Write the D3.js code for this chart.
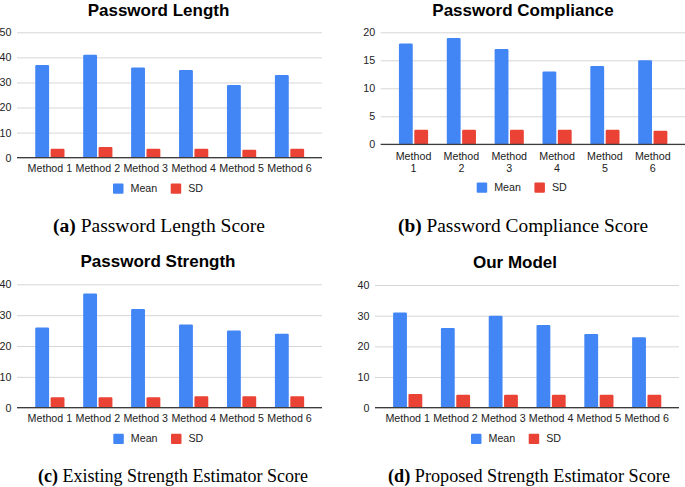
<!DOCTYPE html>
<html>
<head>
<meta charset="utf-8">
<script src="https://cdn.jsdelivr.net/npm/d3@7"></script>
<style>
  html, body { margin: 0; padding: 0; background: #fff; }
  svg { display: block; }
</style>
</head>
<body>
<svg id="chart" width="685" height="487"></svg>
<script>
// ---- Data ----
const categories = ["Method 1", "Method 2", "Method 3", "Method 4", "Method 5", "Method 6"];
const seriesNames = ["Mean", "SD"];

const lengthMean = [37, 41, 36, 35, 29, 33];
const lengthSD = [3.6, 4.3, 3.6, 3.6, 3.2, 3.6];

const complianceMean = [18, 19, 17, 13, 14, 15];
const complianceSD = [2.6, 2.6, 2.6, 2.6, 2.6, 2.4];

const strengthMean = [26, 37, 32, 27, 25, 24];
const strengthSD = [3.4, 3.4, 3.4, 3.7, 3.7, 3.7];

const modelMean = [31, 26, 30, 27, 24, 23];
const modelSD = [4.5, 4.2, 4.2, 4.2, 4.2, 4.2];

const lengthTicks = [0, 10, 20, 30, 40, 50];
const complianceTicks = [0, 5, 10, 15, 20];
const strengthTicks = [0, 10, 20, 30, 40];
const modelTicks = [0, 10, 20, 30, 40];

const titles = ["Password Length", "Password Compliance", "Password Strength", "Our Model"];
const captionLabels = ["(a)", "(b)", "(c)", "(d)"];
const captionTexts = ["Password Length Score", "Password Compliance Score",
                      "Existing Strength Estimator Score", "Proposed Strength Estimator Score"];

// ---- Layout (positions only) ----
const panels = [
  { mean: lengthMean, sd: lengthSD, ticks: lengthTicks, max: 50, wrap: false,
    gx0: 17, gx1: 322, bx0: 25.9, bx1: 313.5, yTop: 32.3, yBase: 157.7,
    titleX: 158.5, titleY: 15.5, catY: 172.3, legX: 113, legY: 183.5,
    capX: 159, capY: 232, capW: 212 },
  { mean: complianceMean, sd: complianceSD, ticks: complianceTicks, max: 20, wrap: true,
    gx0: 380.7, gx1: 685, bx0: 389.6, bx1: 676.7, yTop: 32.3, yBase: 144.3,
    titleX: 523, titleY: 15.5, catY: 159.8, legX: 476.7, legY: 182.5,
    capX: 523, capY: 232, capW: 250 },
  { mean: strengthMean, sd: strengthSD, ticks: strengthTicks, max: 40, wrap: false,
    gx0: 17, gx1: 322, bx0: 25.9, bx1: 313.5, yTop: 284.3, yBase: 407.7,
    titleX: 158, titleY: 266.7, catY: 422.3, legX: 113.3, legY: 433.7,
    capX: 173, capY: 482.3, capW: 270 },
  { mean: modelMean, sd: modelSD, ticks: modelTicks, max: 40, wrap: false,
    gx0: 375, gx1: 679, bx0: 383.8, bx1: 670.6, yTop: 285, yBase: 407.7,
    titleX: 515, titleY: 267.7, catY: 421.9, legX: 471, legY: 433.7,
    capX: 529, capY: 482.3, capW: 282 }
];

const colors = { Mean: "#4285F4", SD: "#EA4335" };
const sansFont = "Arial, 'Liberation Sans', sans-serif";
const serifFont = "'Liberation Serif', 'DejaVu Serif', serif";

const svg = d3.select("#chart");

panels.forEach((p, i) => {
  const g = svg.append("g");

  const y = d3.scaleLinear().domain([0, p.max]).range([p.yBase, p.yTop]);
  const x0 = d3.scaleBand().domain(categories).range([p.bx0, p.bx1]).padding(0);
  const groupW = x0.bandwidth() * 0.61;
  const x1 = d3.scaleBand().domain(seriesNames).range([0, groupW]).paddingInner(0.1);

  // gridlines + y labels
  const axis = d3.axisLeft(y).tickValues(p.ticks).tickSize(-(p.gx1 - p.gx0)).tickPadding(5.5);
  const ax = g.append("g").attr("transform", `translate(${p.gx0},0)`).call(axis);
  ax.select(".domain").remove();
  ax.selectAll(".tick line").attr("stroke", "#d6d6d6").attr("stroke-width", 1);
  ax.selectAll(".tick text").attr("fill", "#222").attr("font-size", "10.7px")
    .attr("font-family", sansFont);

  // bars
  const rows = categories.map((c, k) => ({ cat: c, Mean: p.mean[k], SD: p.sd[k] }));
  const grp = g.selectAll(".grp").data(rows).enter().append("g")
    .attr("transform", d => `translate(${x0(d.cat) + (x0.bandwidth() - groupW) / 2},0)`);
  grp.selectAll("rect").data(d => seriesNames.map(s => ({ s, v: d[s] }))).enter()
    .append("rect")
    .attr("x", d => x1(d.s))
    .attr("y", d => y(d.v))
    .attr("width", x1.bandwidth())
    .attr("height", d => y(0) - y(d.v))
    .attr("rx", 1.2)
    .attr("fill", d => colors[d.s]);

  // baseline
  g.append("line").attr("x1", p.gx0).attr("x2", p.gx1)
    .attr("y1", y(0)).attr("y2", y(0))
    .attr("stroke", "#3c3c3c").attr("stroke-width", 1.3);

  // category labels
  const cat = g.selectAll(".cat").data(categories).enter().append("text")
    .attr("x", d => x0(d) + x0.bandwidth() / 2)
    .attr("y", p.catY)
    .attr("text-anchor", "middle")
    .attr("font-size", "10.7px").attr("font-family", sansFont).attr("fill", "#222");
  if (p.wrap) {
    cat.each(function (d) {
      const parts = d.split(" ");
      const t = d3.select(this);
      t.append("tspan").attr("x", x0(d) + x0.bandwidth() / 2).text(parts[0]);
      t.append("tspan").attr("x", x0(d) + x0.bandwidth() / 2).attr("dy", 12.3).text(parts[1]);
    });
  } else {
    cat.text(d => d);
  }

  // title
  g.append("text").attr("x", p.titleX).attr("y", p.titleY)
    .attr("text-anchor", "middle").attr("font-family", sansFont)
    .attr("font-weight", "bold").attr("font-size", "17px").attr("fill", "#000")
    .text(titles[i]);

  // legend
  const leg = g.append("g").attr("transform", `translate(${p.legX},${p.legY})`);
  const offs = [0, 57.7];
  seriesNames.forEach((s, k) => {
    leg.append("rect").attr("x", offs[k]).attr("y", 0).attr("width", 10.5).attr("height", 10.3)
      .attr("rx", 1).attr("fill", colors[s]);
    leg.append("text").attr("x", offs[k] + 17.5).attr("y", 8.6)
      .attr("font-size", "10.7px").attr("font-family", sansFont).attr("fill", "#222").text(s);
  });

  // caption
  const cap = g.append("text").attr("x", p.capX).attr("y", p.capY)
    .attr("text-anchor", "middle").attr("font-family", serifFont)
    .attr("font-size", "18px").attr("fill", "#000")
    .attr("textLength", p.capW).attr("lengthAdjust", "spacingAndGlyphs");
  cap.append("tspan").attr("font-weight", "bold").text(captionLabels[i]);
  cap.append("tspan").text(" " + captionTexts[i]);
});
</script>
</body>
</html>
